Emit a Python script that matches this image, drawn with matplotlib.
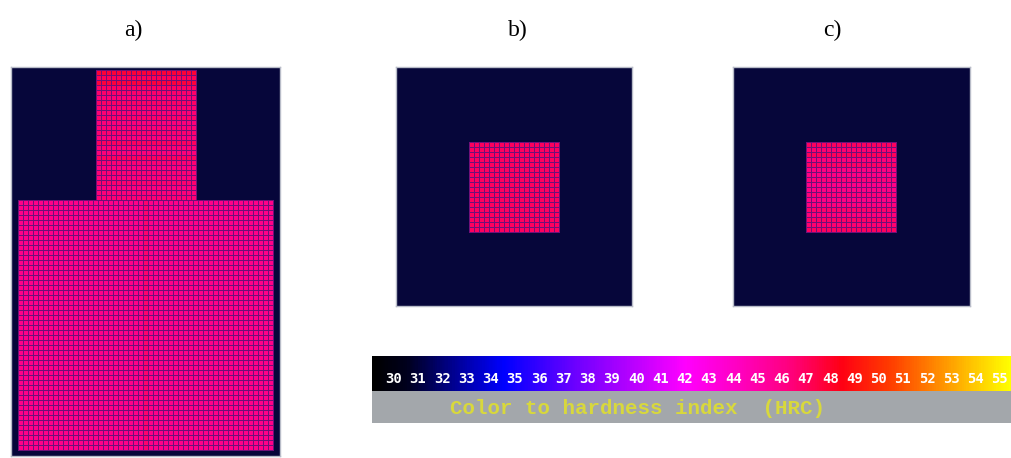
import numpy as np
import matplotlib
matplotlib.use("Agg")
import matplotlib.pyplot as plt
from matplotlib.colors import LinearSegmentedColormap, Normalize

# ---------------- data ----------------
panel_labels = ["a)", "b)", "c)"]
hrc_ticks = list(range(30, 56))
legend_title = "Color to hardness index  (HRC)"

# colour scale anchors (HRC -> rgb)
scale_hrc = [29.1, 30.5, 32.5, 34.5, 37.5, 40.0, 42.0, 44.5, 46.5, 48.5, 50.5, 52.0, 54.0, 55.5]
scale_rgb = [(0, 0, 0), (0, 0, 30), (0, 0, 150), (0, 0, 255), (110, 0, 255), (190, 0, 255),
             (255, 0, 255), (255, 0, 185), (255, 0, 120), (255, 0, 20), (255, 60, 0),
             (255, 120, 0), (255, 200, 0), (255, 255, 0)]

# panel a (cells): shoulder body and neck
body_cols, body_rows = 51, 50
neck_cols, neck_rows = 20, 26
neck_row_hrc = [47.8, 47.2, 47.7, 47.0, 46.8, 46.6, 46.9, 46.7, 46.6, 46.8, 46.5, 46.6, 46.7,
                46.5, 47.0, 46.6, 46.5, 47.0, 46.6, 46.4, 46.6, 46.5, 46.7, 46.4, 46.5, 46.6]
body_hrc = 46.0
body_center_hrc = 46.7

# panels b, c (cells): square core
core_cells = 18
core_b_hrc = 47.0
core_c_row_hrc = [47.0, 46.7, 47.1, 46.5, 46.9, 46.3, 46.2, 46.5, 46.1, 46.2, 46.5, 46.2,
                  46.4, 46.8, 46.5, 46.9, 46.7, 47.0]

# ---------------- style ----------------
navy = "#06063a"
edge = "#701078"
cmap = LinearSegmentedColormap.from_list(
    "hrc",
    [((h - scale_hrc[0]) / (scale_hrc[-1] - scale_hrc[0]), tuple(c / 255 for c in rgb))
     for h, rgb in zip(scale_hrc, scale_rgb)])
norm = Normalize(scale_hrc[0], scale_hrc[-1])

W, H = 1012, 458
fig = plt.figure(figsize=(W / 100, H / 100), dpi=100)
fig.patch.set_facecolor("white")


def box(x0, y0, x1, y1):
    return [x0 / W, 1 - y1 / H, (x1 - x0) / W, (y1 - y0) / H]


def panel_ax(x0, y0, x1, y1):
    ax = fig.add_axes(box(x0, y0, x1, y1))
    ax.set_facecolor(navy)
    ax.set_xlim(0, (x1 - x0) / 5)
    ax.set_ylim(0, (y1 - y0) / 5)
    ax.set_xticks([]); ax.set_yticks([])
    for s in ax.spines.values():
        s.set_color("#b8bcc8"); s.set_linewidth(1.0)
    return ax


def cells(ax, x0, y0, grid):
    ny, nx = grid.shape
    ax.pcolormesh(x0 + np.arange(nx + 1), y0 + np.arange(ny + 1), grid,
                  cmap=cmap, norm=norm, edgecolors=edge, linewidth=0.45)


# panel a
axa = panel_ax(11, 67, 280, 456)
body = np.full((body_rows, body_cols), body_hrc)
body[:, body_cols // 2] = body_center_hrc
cells(axa, 1.4, 1.2, body)
neck = np.repeat(np.array(neck_row_hrc[::-1])[:, None], neck_cols, axis=1)
cells(axa, 17.0, 1.2 + body_rows, neck)

# panel b
axb = panel_ax(396, 67, 632, 306)
cells(axb, 14.6, 14.8, np.full((core_cells, core_cells), core_b_hrc))

# panel c
axc = panel_ax(733, 67, 970, 306)
core_c = np.repeat(np.array(core_c_row_hrc[::-1])[:, None], core_cells, axis=1)
cells(axc, 14.6, 14.8, core_c)

# labels
for lab, x in zip(panel_labels, [133, 518, 832]):
    fig.text(x / W, 1 - 30 / H, lab, ha="center", va="center",
             fontsize=17, family="Liberation Serif")

# colour legend
cax = fig.add_axes(box(372, 356, 1012, 391))
cax.imshow(np.linspace(scale_hrc[0], scale_hrc[-1], 600)[None, :], aspect="auto",
           cmap=cmap, norm=norm, extent=(scale_hrc[0], scale_hrc[-1], 0, 1))
cax.set_xlim(scale_hrc[0], scale_hrc[-1]); cax.set_ylim(0, 1)
cax.set_xticks([]); cax.set_yticks([])
for s in cax.spines.values():
    s.set_visible(False)
for t in hrc_ticks:
    cax.text(t, 0.33, str(t), ha="center", va="center", color="white",
             fontsize=10, fontweight="bold", family="DejaVu Sans Mono")

gax = fig.add_axes(box(372, 391, 1012, 423))
gax.set_facecolor("#a3a7ab")
gax.set_xticks([]); gax.set_yticks([])
for s in gax.spines.values():
    s.set_visible(False)
fig.text(450 / W, 1 - 408 / H, legend_title, ha="left", va="center", color="#d8d83c",
         fontsize=15, fontweight="bold", family="Liberation Mono")

fig.savefig("out.png", dpi=100)
